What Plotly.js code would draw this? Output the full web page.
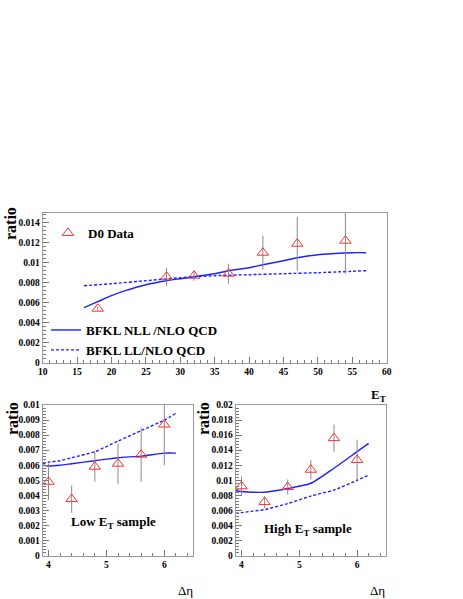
<!DOCTYPE html>
<html>
<head>
<meta charset="utf-8">
<script src="https://cdn.plot.ly/plotly-3.0.1.min.js"></script>
<style>
	body { margin: 0; padding: 0; background: #fff; }
	#graph { width: 463px; height: 599px; }
</style>
</head>
<body>
<div id="graph"></div>
<script>
// top panel: ratio vs E_T
var et_x = [18, 28, 32, 37, 42, 47, 54];
var et_y = [0.0054, 0.0086, 0.0087, 0.0089, 0.0110, 0.0119, 0.0122];
var et_err = [0.0002, 0.0009, 0.0005, 0.0010, 0.0017, 0.0027, 0.0033];

var et_nll_x = [16, 18, 20, 22, 25, 28, 30, 32, 35, 37, 40, 42, 45, 47, 50, 52, 55, 57];
var et_nll_y = [0.0055, 0.0061, 0.0067, 0.0072, 0.0078, 0.0082, 0.0084, 0.0086, 0.0089, 0.0092, 0.0095, 0.0098, 0.0102, 0.0105, 0.0108, 0.0109, 0.0110, 0.0110];
var et_ll_x = [16, 20, 25, 30, 35, 40, 45, 50, 57];
var et_ll_y = [0.0077, 0.0079, 0.0082, 0.0085, 0.0087, 0.0088, 0.0089, 0.0090, 0.0092];

// bottom panels: ratio vs delta eta
var deta_x = [4, 4.4, 4.8, 5.2, 5.6, 6];
var low_y = [0.0049, 0.00375, 0.0059, 0.0061, 0.0067, 0.0087];
var low_err = [0.0012, 0.0009, 0.0010, 0.00135, 0.0018, 0.0027];
var high_y = [0.0092, 0.0071, 0.0091, 0.0114, 0.0156, 0.0127];
var high_err = [0.0013, 0.0008, 0.0010, 0.0013, 0.0018, 0.0027];

var curve_x = [3.9, 4, 4.2, 4.4, 4.8, 5.2, 5.6, 6, 6.2];
var low_nll = [0.0060, 0.00595, 0.0060, 0.0061, 0.0063, 0.0065, 0.0066, 0.0068, 0.0068];
var low_ll = [0.0061, 0.0062, 0.0063, 0.0065, 0.0069, 0.0076, 0.0083, 0.0090, 0.00945];
var high_nll = [0.0086, 0.0085, 0.0084, 0.0084, 0.0089, 0.0096, 0.0116, 0.0138, 0.0149];
var high_ll = [0.0056, 0.0057, 0.0059, 0.0061, 0.0069, 0.0079, 0.0087, 0.0100, 0.0107];

var W = 463, H = 599;
var serif = '"Liberation Serif", "Times New Roman", serif';
var blue = '#2020ff';
var frame = '#9a9a9a';

function px(x) { return x / W; }
function py(y) { return 1 - y / H; }

function dataTrace(x, y, err, xa, ya, legend) {
	return {
		x: x, y: y, xaxis: xa, yaxis: ya,
		type: 'scatter', mode: 'markers',
		name: 'D0 Data',
		showlegend: legend,
		marker: { symbol: 'triangle-up-open', size: 10, color: '#ff3030', line: { width: 1 } },
		error_y: { type: 'data', array: err, visible: true, color: '#8a8a8a', thickness: 1, width: 0 },
		legend: 'legend'
	};
}

function lineTrace(x, y, xa, ya, dashed, legend) {
	return {
		x: x, y: y, xaxis: xa, yaxis: ya,
		type: 'scatter', mode: 'lines',
		name: dashed ? 'BFKL LL/NLO QCD' : 'BFKL NLL /NLO QCD',
		showlegend: legend,
		legend: 'legend2',
		line: { color: blue, width: 1.4, shape: 'spline', smoothing: 0.6, dash: dashed ? '3px,2px' : 'solid' }
	};
}

var traces = [
	lineTrace(et_nll_x, et_nll_y, 'x', 'y', false, true),
	lineTrace(et_ll_x, et_ll_y, 'x', 'y', true, true),
	dataTrace(et_x, et_y, et_err, 'x', 'y', true),
	lineTrace(curve_x, low_nll, 'x2', 'y2', false, false),
	lineTrace(curve_x, low_ll, 'x2', 'y2', true, false),
	dataTrace(deta_x, low_y, low_err, 'x2', 'y2', false),
	lineTrace(curve_x, high_nll, 'x3', 'y3', false, false),
	lineTrace(curve_x, high_ll, 'x3', 'y3', true, false),
	dataTrace(deta_x, high_y, high_err, 'x3', 'y3', false)
];

var tickfont = { family: serif, size: 9.5, weight: 'bold', color: '#000' };

function axis(domain, anchor, range, dtick, minor) {
	return {
		domain: domain, anchor: anchor, range: range,
		dtick: dtick, tick0: 0,
		showgrid: false, zeroline: false,
		showline: true, mirror: true, linecolor: frame, linewidth: 1,
		ticks: 'inside', ticklen: 6, tickcolor: '#777', tickwidth: 1,
		minor: { dtick: minor, ticks: 'inside', ticklen: 3, tickcolor: '#777', showgrid: false },
		tickfont: tickfont,
		fixedrange: true
	};
}

var titleFont = { family: serif, size: 16, weight: 'bold', color: '#000' };
var textFont = { family: serif, size: 13, weight: 'bold', color: '#000' };
var etaFont = { family: serif, size: 13, color: '#000' };

function note(text, x, y, font, angle) {
	return {
		text: text, xref: 'paper', yref: 'paper',
		x: px(x), y: py(y), xanchor: 'center', yanchor: 'middle',
		showarrow: false, font: font, textangle: angle || 0
	};
}

var layout = {
	width: W, height: H,
	margin: { l: 0, r: 0, t: 0, b: 0 },
	paper_bgcolor: '#fff',
	plot_bgcolor: '#fff',
	xaxis: axis([px(42.7), px(386.7)], 'y', [10, 60], 5, 1),
	yaxis: axis([py(362.7), py(212.7)], 'x', [0, 0.015], 0.002, 0.0004),
	xaxis2: axis([px(42.7), px(193.3)], 'y2', [3.9, 6.5], 1, 0.2),
	yaxis2: axis([py(555.5), py(405)], 'x2', [0, 0.01], 0.001, 0.0002),
	xaxis3: axis([px(235.7), px(386)], 'y3', [3.9, 6.5], 1, 0.2),
	yaxis3: axis([py(555.5), py(405)], 'x3', [0, 0.02], 0.002, 0.0004),
	showlegend: true,
	legend: {
		x: px(48), y: py(233), xanchor: 'left', yanchor: 'middle',
		bgcolor: 'rgba(0,0,0,0)', font: textFont, itemwidth: 30
	},
	legend2: {
		x: px(46), y: py(340), xanchor: 'left', yanchor: 'middle',
		bgcolor: 'rgba(0,0,0,0)', font: textFont, itemwidth: 30, tracegroupgap: 0
	},
	annotations: [
		note('ratio', 10, 224, titleFont, -90),
		note('ratio', 12, 419, titleFont, -90),
		note('ratio', 203, 419, titleFont, -90),
		note('E<sub>T</sub>', 378, 395, textFont),
		note('Low E<sub>T</sub> sample', 113, 522, textFont),
		note('High E<sub>T</sub> sample', 308, 529, textFont),
		note('Δη', 185, 590, etaFont),
		note('Δη', 377, 590, etaFont)
	]
};

Plotly.newPlot('graph', traces, layout, { staticPlot: true, displayModeBar: false });
</script>
</body>
</html>
